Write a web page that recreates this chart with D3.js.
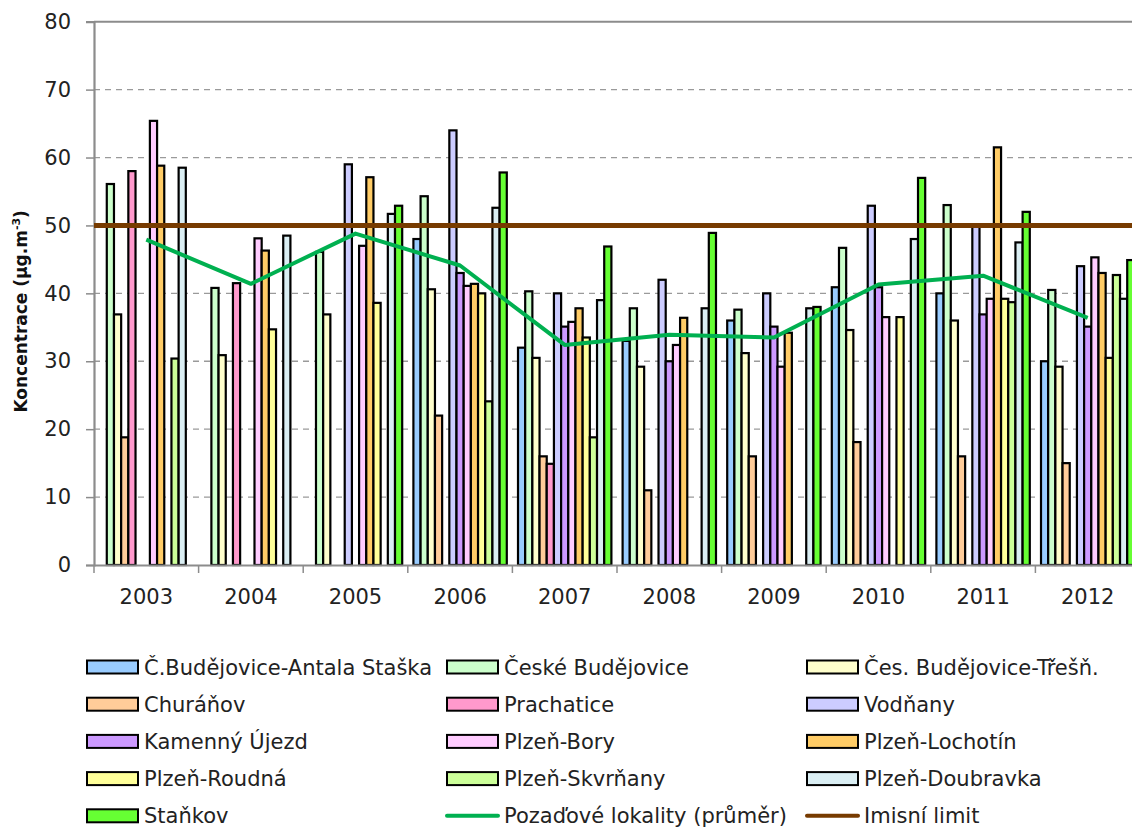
<!DOCTYPE html>
<html>
<head>
<meta charset="utf-8">
<script src="https://cdn.jsdelivr.net/npm/d3@7"></script>
<style>
  html, body { margin: 0; padding: 0; background: #fff; overflow: hidden; }
  svg { display: block; font-family: "DejaVu Sans", sans-serif; }
</style>
</head>
<body>
<svg id="chart" width="1132" height="831"></svg>
<script>
// ---------- data ----------
const years = ["2003","2004","2005","2006","2007","2008","2009","2010","2011","2012"];
const yTicks = [0,10,20,30,40,50,60,70,80];

const seriesNames = [
  "Č.Budějovice-Antala Staška","České Budějovice","Čes. Budějovice-Třešň.",
  "Churáňov","Prachatice","Vodňany",
  "Kamenný Újezd","Plzeň-Bory","Plzeň-Lochotín",
  "Plzeň-Roudná","Plzeň-Skvrňany","Plzeň-Doubravka",
  "Staňkov"
];
const seriesColors = [
  "#99CCFF","#CCFFCC","#FFFFCC",
  "#FFCC99","#FF99CC","#CCCCFF",
  "#CC99FF","#FFCCFF","#FFCC66",
  "#FFFF99","#CCFF99","#DAEEF3",
  "#66FF33"
];

const antalaStaska   = [null, null, null, 48.0, 32.0, 33.0, 36.0, 40.9, 40.0, 30.0];
const ceskeBudejovice= [56.1, 40.8, 46.1, 54.3, 40.3, 37.8, 37.6, 46.7, 53.0, 40.5];
const tresnova       = [36.9, 30.9, 36.9, 40.6, 30.5, 29.2, 31.2, 34.6, 36.0, 29.2];
const churanov       = [18.8, null, null, 22.0, 16.0, 11.0, 16.0, 18.1, 16.0, 15.0];
const prachatice     = [58.0, 41.5, null, null, 14.9, null, null, null, null, null];
const vodnany        = [null, null, 59.0, 64.0, 40.0, 42.0, 40.0, 52.9, 50.0, 44.0];
const kamennyUjezd   = [null, null, null, 43.0, 35.1, 30.0, 35.1, 40.9, 36.9, 35.1];
const plzenBory      = [65.4, 48.1, 47.0, 41.1, 35.8, 32.4, 29.2, 36.5, 39.2, 45.3];
const plzenLochotin  = [58.8, 46.3, 57.1, 41.4, 37.8, 36.4, 34.2, null, 61.5, 43.0];
const plzenRoudna    = [null, 34.7, 38.6, 40.0, 33.5, null, null, 36.5, 39.2, 30.5];
const plzenSkvrnany  = [30.4, null, null, 24.1, 18.8, null, null, null, 38.7, 42.7];
const plzenDoubravka = [58.5, 48.5, 51.7, 52.6, 39.0, 37.8, 37.8, 48.0, 47.5, 39.2];
const stankov        = [null, null, 52.9, 57.8, 46.9, 48.9, 38.0, 57.0, 52.0, 44.9];

const seriesValues = [antalaStaska, ceskeBudejovice, tresnova, churanov, prachatice, vodnany,
  kamennyUjezd, plzenBory, plzenLochotin, plzenRoudna, plzenSkvrnany, plzenDoubravka, stankov];

const backgroundAvgName = "Pozaďové lokality (průměr)";
const backgroundAvg = [47.9, 41.4, 48.8, 44.1, 32.4, 33.9, 33.5, 41.3, 42.6, 36.4];
const limitName = "Imisní limit";
const limitValue = 50;

// ---------- layout ----------
const svg = d3.select("#chart");
const L = 94, R = 1140, T = 21.7, B = 565;

const x0 = d3.scaleBand().domain(years).range([L, R]).padding(0);
const x1 = d3.scaleBand().domain(d3.range(seriesNames.length))
  .range([0, x0.bandwidth()]).paddingInner(0).paddingOuter(0.78);
const y = d3.scaleLinear().domain([0, 80]).range([B, T]);

// gridlines
svg.append("g").selectAll("line")
  .data(yTicks.filter(t => t > 0 && t < 80))
  .join("line")
  .attr("x1", L).attr("x2", R)
  .attr("y1", d => y(d)).attr("y2", d => y(d))
  .attr("stroke", "#9a9a9a").attr("stroke-width", 1.3)
  .attr("stroke-dasharray", "6,5");

// top border
svg.append("line").attr("x1", L).attr("x2", R).attr("y1", y(80)).attr("y2", y(80))
  .attr("stroke", "#8c8c8c").attr("stroke-width", 2);

// bars
const barData = [];
seriesValues.forEach((vals, si) => {
  vals.forEach((v, yi) => { if (v !== null) barData.push({si, yi, v}); });
});
svg.append("g").selectAll("rect")
  .data(barData)
  .join("rect")
  .attr("x", d => x0(years[d.yi]) + x1(d.si))
  .attr("width", x1.bandwidth())
  .attr("y", d => y(d.v))
  .attr("height", d => y(0) - y(d.v))
  .attr("fill", d => seriesColors[d.si])
  .attr("stroke", "#000").attr("stroke-width", 2.2);

// y axis
const yAxis = d3.axisLeft(y).tickValues(yTicks).tickSize(8).tickPadding(15).tickFormat(d3.format("d"));
const gy = svg.append("g").attr("transform", `translate(${L},0)`).call(yAxis);
gy.select(".domain").attr("stroke", "#8c8c8c").attr("stroke-width", 2.2);
gy.selectAll(".tick line").attr("stroke", "#8c8c8c").attr("stroke-width", 1.5);
gy.selectAll(".tick text").attr("font-size", 21).attr("fill", "#222").attr("font-family", "DejaVu Sans");

// x axis
const xAxis = d3.axisBottom(x0).tickSize(0).tickPadding(24);
const gx = svg.append("g").attr("transform", `translate(0,${B})`).call(xAxis);
gx.select(".domain").attr("stroke", "#8c8c8c").attr("stroke-width", 2.2);
gx.selectAll(".tick text").attr("font-size", 21).attr("fill", "#222").attr("font-family", "DejaVu Sans");
// boundary ticks
svg.append("g").selectAll("line")
  .data(years)
  .join("line")
  .attr("x1", d => x0(d)).attr("x2", d => x0(d))
  .attr("y1", B).attr("y2", B + 8)
  .attr("stroke", "#8c8c8c").attr("stroke-width", 1.5);

// limit line
svg.append("line")
  .attr("x1", L).attr("x2", R)
  .attr("y1", y(limitValue)).attr("y2", y(limitValue))
  .attr("stroke", "#773B00").attr("stroke-width", 5);

// background average line
const line = d3.line()
  .x((d, i) => x0(years[i]) + x0.bandwidth() / 2)
  .y(d => y(d));
svg.append("path").datum(backgroundAvg)
  .attr("d", line)
  .attr("fill", "none").attr("stroke", "#00B050").attr("stroke-width", 4)
  .attr("stroke-linejoin", "round");

// y title
const yt = svg.append("text")
  .attr("transform", `translate(27,${(y(80)+y(0))/2 + 18}) rotate(-90)`)
  .attr("text-anchor", "middle")
  .attr("font-size", 17).attr("font-weight", "bold").attr("fill", "#111");
yt.append("tspan").text("Koncentrace (µg.m");
yt.append("tspan").text("-3").attr("font-size", 11).attr("dy", -7);
yt.append("tspan").text(")").attr("dy", 7);

// legend
const legendItems = seriesNames.map((n, i) => ({name: n, type: "bar", color: seriesColors[i]}));
legendItems.push({name: backgroundAvgName, type: "line", color: "#00B050"});
legendItems.push({name: limitName, type: "line", color: "#773B00"});
const colX = [87, 447, 807];
const rowY0 = 667, rowStep = 37.2;
const lg = svg.append("g").selectAll("g")
  .data(legendItems)
  .join("g")
  .attr("transform", (d, i) => `translate(${colX[i % 3]},${rowY0 + Math.floor(i / 3) * rowStep})`);
lg.filter(d => d.type === "bar").append("rect")
  .attr("x", 0).attr("y", -6.5).attr("width", 51).attr("height", 13)
  .attr("fill", d => d.color).attr("stroke", "#000").attr("stroke-width", 2);
lg.filter(d => d.type === "line").append("line")
  .attr("x1", 0).attr("x2", 51).attr("y1", 0).attr("y2", 0)
  .attr("stroke", d => d.color).attr("stroke-width", 4).attr("stroke-linecap", "round");
lg.append("text")
  .attr("x", 57).attr("y", 0).attr("dy", "0.36em")
  .attr("font-size", 21).attr("fill", "#222")
  .text(d => d.name);
</script>
</body>
</html>
